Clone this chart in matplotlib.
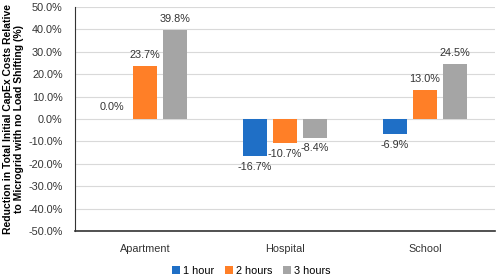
import numpy as np
import matplotlib.pyplot as plt

plt.rcParams['font.family'] = ['Liberation Sans', 'DejaVu Sans']

sites = ["Apartment", "Hospital", "School"]
series = ["1 hour", "2 hours", "3 hours"]
one_hour = [0.0, -16.7, -6.9]
two_hours = [23.7, -10.7, 13.0]
three_hours = [39.8, -8.4, 24.5]
colors = ["#1F6FC6", "#FF7F27", "#A5A5A5"]

fig = plt.figure(figsize=(4.98, 2.76), dpi=100)
ax = fig.add_axes([0.151, 0.163, 0.843, 0.812])

x = np.arange(len(sites))
width = 0.17
step = 0.214
for i, (vals, name) in enumerate(zip([one_hour, two_hours, three_hours], series)):
    pos = x + (i - 1) * step
    ax.bar(pos, vals, width, color=colors[i], label=name, zorder=3)
    for p, v in zip(pos, vals):
        if v > 0:
            ax.text(p, v + 2.5, f"{v:.1f}%", ha='center', va='bottom', fontsize=7.8, color='#333333')
        elif v < 0:
            ax.text(p, v - 2.5, f"{v:.1f}%", ha='center', va='top', fontsize=7.8, color='#333333')
        else:
            ax.text(p - 0.02, v + 3.0, f"{v:.1f}%", ha='center', va='bottom', fontsize=7.8, color='#333333')

ax.set_xlim(-0.5, 2.5)
ax.set_ylim(-50, 50)
ax.set_yticks(np.arange(-50, 51, 10))
ax.set_yticklabels([f"{t:.1f}%" for t in np.arange(-50, 51, 10)], fontsize=7.8, color='#333333')
ax.set_xticks(x)
ax.set_xticklabels(sites, fontsize=7.8, color='#333333')
ax.tick_params(axis='x', length=0, pad=9)
ax.tick_params(axis='y', length=0, pad=9)
ax.grid(axis='y', color='#D9D9D9', linewidth=0.8, zorder=0)
for s in ['top', 'right']:
    ax.spines[s].set_visible(False)
ax.spines['left'].set_color('#333333')
ax.spines['bottom'].set_color('#333333')
ax.spines['bottom'].set_linewidth(1.2)

ax.set_ylabel("Reduction in Total Initial CapEx Costs Relative\nto Microgrid with no Load Shifting (%)",
              fontsize=7.5, fontweight='bold', labelpad=3)

fig.legend(loc='lower center', bbox_to_anchor=(0.505, -0.035), ncol=3, frameon=False,
           fontsize=7.8, handlelength=0.7, handleheight=0.7, handletextpad=0.3, columnspacing=1.0)

plt.savefig('out.png', dpi=100)
